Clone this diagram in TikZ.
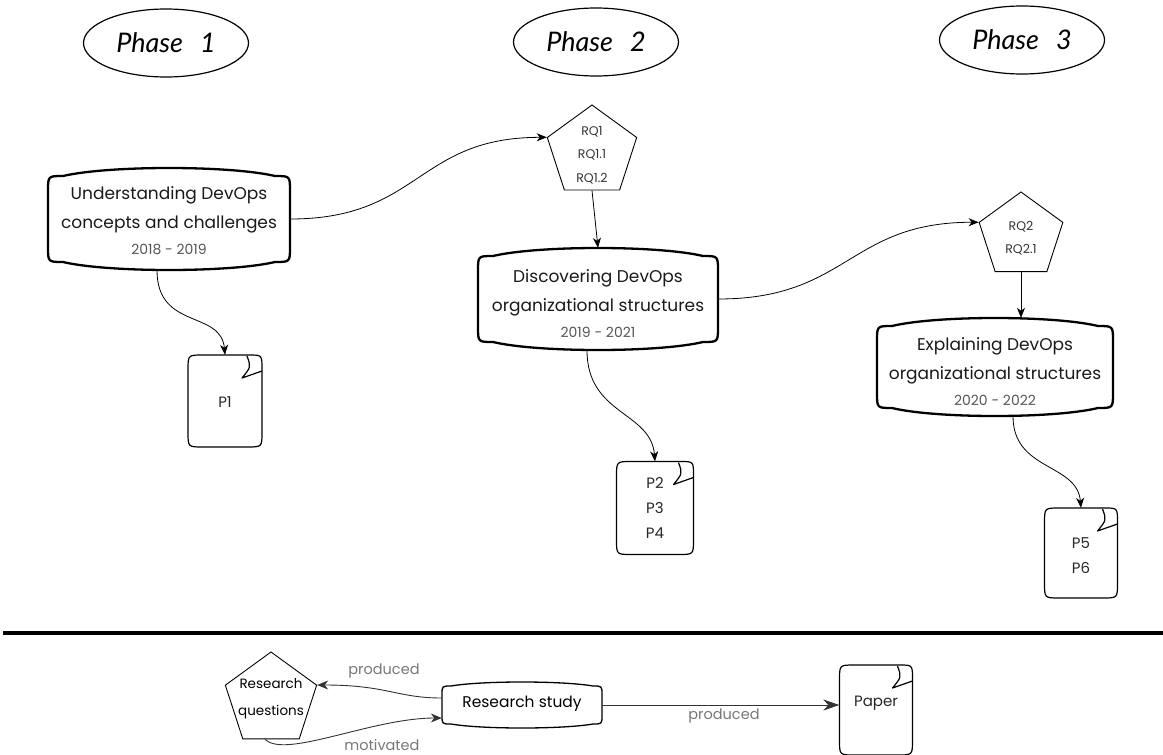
\documentclass[tikz,border=0pt]{standalone}
\usepackage{fontspec}
\setmainfont{Poppins}
\newfontfamily\phasefont{Lato}
\usetikzlibrary{shapes.geometric,arrows.meta}

\definecolor{yeargray}{HTML}{555555}
\definecolor{rqgray}{HTML}{333333}
\definecolor{labelgray}{HTML}{777777}

\newcommand\yearfont{\color{yeargray}\fontsize{14}{26}\selectfont}

% outline of a box whose top and bottom edges bow outwards
% #1,#2 centre, #3 width, #4 height, #5 bow, #6 corner radius, #7 style
\newcommand\bowbox[7]{%
  \begin{scope}[shift={(#1,#2)}]
    \pgfmathsetmacro\bw{#3/2}\pgfmathsetmacro\bh{#4/2}\pgfmathsetmacro\bb{#5}
    \draw[#7] (-\bw,{-\bh+\bb+#6}) .. controls (-\bw,{-\bh+\bb}) .. ({-\bw+#6},{-\bh+\bb})
      .. controls ({-\bw/2},{-\bh-\bb/3}) and ({\bw/2},{-\bh-\bb/3}) .. ({\bw-#6},{-\bh+\bb})
      .. controls (\bw,{-\bh+\bb}) .. (\bw,{-\bh+\bb+#6})
      -- (\bw,{\bh-\bb-#6})
      .. controls (\bw,{\bh-\bb}) .. ({\bw-#6},{\bh-\bb})
      .. controls ({\bw/2},{\bh+\bb/3}) and ({-\bw/2},{\bh+\bb/3}) .. ({-\bw+#6},{\bh-\bb})
      .. controls (-\bw,{\bh-\bb}) .. (-\bw,{\bh-\bb-#6}) -- cycle;
  \end{scope}}

% paper sheet with a curled top-right corner
% #1,#2 centre, #3 width, #4 height
\newcommand\papersheet[4]{%
  \begin{scope}[shift={(#1,#2)}]
    \pgfmathsetmacro\pw{#3/2}\pgfmathsetmacro\ph{#4/2}
    \draw[sheetline] (\pw,{-\ph+14}) -- (\pw,{\ph-15})
      .. controls (\pw,\ph) .. ({\pw-15},\ph) -- ({-\pw+15},\ph)
      .. controls (-\pw,\ph) .. (-\pw,{\ph-15}) -- (-\pw,{-\ph+15})
      .. controls (-\pw,-\ph) .. ({-\pw+15},-\ph) -- ({\pw-13},-\ph)
      .. controls (\pw,-\ph) .. (\pw,{-\ph+14});
    \draw[sheetline] ({\pw-15},{-\ph+1}) .. controls ({\pw-11},{-\ph+12}) .. ({\pw-20},{-\ph+23})
      -- (\pw,{-\ph+16});
  \end{scope}}

\begin{document}
\begin{tikzpicture}[x=1pt,y=-1pt,
  phase/.style={ellipse, draw, line width=1.2pt, minimum width=165pt, minimum height=68pt,
    inner sep=0pt, font=\phasefont\itshape\fontsize{27}{29}\selectfont},
  anchorbox/.style={rectangle, draw=none, inner sep=0pt},
  boxtext/.style={align=center, inner sep=0pt, text=black!90, font=\fontsize{17}{29}\selectfont},
  bigline/.style={line width=2.3pt, line join=round},
  smallline/.style={line width=1.3pt, line join=round},
  sheetline/.style={line width=1.2pt, line join=round},
  rq/.style={regular polygon, regular polygon sides=5, draw, line width=0.9pt, inner sep=0pt},
  rqtext/.style={align=center, inner sep=0pt, text=rqgray, font=\fontsize{12.5}{23.5}\selectfont},
  doctext/.style={align=center, inner sep=0pt, text=black!85, font=\fontsize{15}{25}\selectfont},
  lbl/.style={inner sep=0pt, text=labelgray, font=\fontsize{14.5}{16}\selectfont},
  conn/.style={draw=black, line width=0.8pt, -{Stealth[length=10pt,width=8pt,inset=3pt]}},
  legconn/.style={draw=black!80, line width=0.9pt, -{Stealth[length=11pt,width=9pt,inset=3.5pt]}},
  bigconn/.style={draw=black!80, line width=0.9pt, -{Stealth[length=16pt,width=11pt,inset=5pt]}}]

\useasboundingbox (0,0) rectangle (1163,755);

% phase headings
\node[phase] (ph1) at (166,43) {Phase\hspace{17pt}1};
\node[phase] (ph2) at (596,42) {Phase\hspace{17pt}2};
\node[phase] (ph3) at (1022,40) {Phase\hspace{17pt}3};

% study boxes
\node[anchorbox, minimum width=242pt, minimum height=102pt] (b1) at (169,219) {};
\bowbox{169}{219}{242}{102}{8}{15}{bigline}
\node[boxtext] (b1t) at (169,221) {Understanding DevOps\\concepts and challenges\\[-3pt]{\yearfont 2018 - 2019}};

\node[anchorbox, minimum width=240pt, minimum height=102pt] (b2) at (598,299) {};
\bowbox{598}{299}{240}{102}{8}{15}{bigline}
\node[boxtext] (b2t) at (598,304) {Discovering DevOps\\organizational structures\\[-3pt]{\yearfont 2019 - 2021}};

\node[anchorbox, minimum width=236pt, minimum height=98pt] (b3) at (995,367) {};
\bowbox{995}{367}{236}{98}{8}{15}{bigline}
\node[boxtext] (b3t) at (995,372) {Explaining DevOps\\organizational structures\\[-3pt]{\yearfont 2020 - 2022}};

% research questions
\node[rq, minimum size=94pt] (q1) at (592,152) {};
\node[rqtext] (q1t) at (592,155) {RQ1\\RQ1.1\\RQ1.2};
\node[rq, minimum size=88pt] (q2) at (1021,236) {};
\node[rqtext] (q2t) at (1021,238) {RQ2\\RQ2.1};

% papers
\node[anchorbox, minimum width=74pt, minimum height=92pt] (d1) at (225,401) {};
\papersheet{225}{401}{74}{92}
\node[doctext] (d1t) at (225,402) {P1};
\node[anchorbox, minimum width=77pt, minimum height=93pt] (d2) at (655,508) {};
\papersheet{655}{508}{77}{93}
\node[doctext] (d2t) at (655,508) {P2\\P3\\P4};
\node[anchorbox, minimum width=73pt, minimum height=90pt] (d3) at (1081,553) {};
\papersheet{1081}{553}{73}{90}
\node[doctext] (d3t) at (1081,556) {P5\\P6};

% connectors
\draw[conn] (b1.east) .. controls +(130,0) and +(-130,0) .. (q1.corner 2);
\draw[conn] (q1.side 3) -- (b2.north);
\draw[conn] (b2.east) .. controls +(130,0) and +(-130,0) .. (q2.corner 2);
\draw[conn] (q2.side 3) -- (q2.side 3 |- b3.north);
\draw[conn] ([xshift=-12pt]b1.south) .. controls +(0,60) and +(-4,-45) .. (d1.north);
\draw[conn] ([xshift=-11pt]b2.south) .. controls +(0,65) and +(-4,-50) .. (d2.north);
\draw[conn] ([xshift=18pt]b3.south) .. controls +(0,55) and +(-4,-45) .. (d3.north);

% separator
\coordinate (sepL) at (3,633);
\coordinate (sepR) at (1163,633);
\draw[line width=4pt] (sepL) -- (sepR);

% legend
\node[rq, minimum size=96pt] (lq) at (271,700) {};
\node[align=center, inner sep=0pt, font=\fontsize{13.5}{27}\selectfont] (lqt) at (271,699) {Research\\questions};
\node[anchorbox, minimum width=160pt, minimum height=46pt] (ls) at (522,705) {};
\bowbox{522}{705}{160}{46}{4}{9}{smallline}
\node[inner sep=0pt, font=\fontsize{15.5}{17}\selectfont] (lst) at (522,704) {Research study};
\node[anchorbox, minimum width=73pt, minimum height=90pt] (lp) at (876,710) {};
\papersheet{876}{710}{73}{90}
\node[doctext] (lpt) at (876,703) {Paper};

\draw[legconn] ([yshift=7pt]ls.west) .. controls +(-45,0) and +(70,0) .. (lq.corner 5);
\draw[legconn] ([xshift=-6pt]lq.side 3) .. controls +(20,20) and +(-70,0) .. ([yshift=-13pt]ls.west);
\draw[bigconn] (ls.east) -- (ls.east -| lp.west);

\node[lbl] (lbl1) at (384,671) {produced};
\node[lbl] (lbl2) at (382,745) {motivated};
\node[lbl] (lbl3) at (724,716) {produced};

\end{tikzpicture}
\end{document}
